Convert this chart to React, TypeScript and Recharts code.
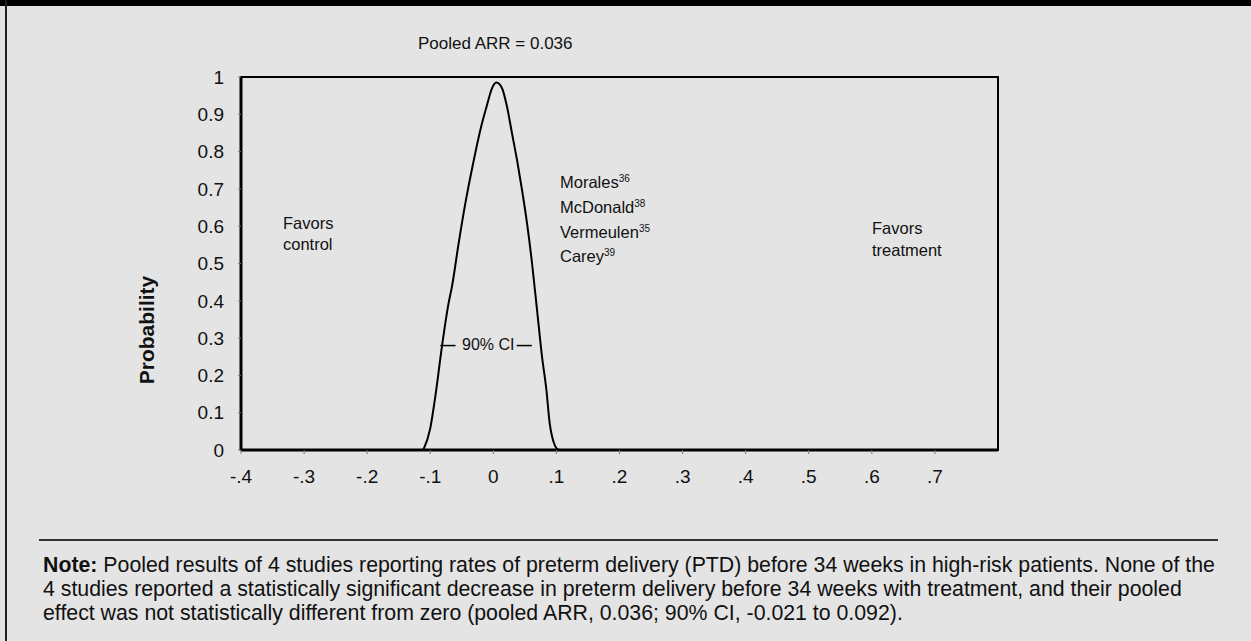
import React from "react";
import {
  LineChart,
  Line,
  XAxis,
  YAxis,
  ReferenceArea,
  ReferenceLine,
} from "recharts";

// absolute risk reduction (x) vs probability (y)
const arr = [
  -0.111, -0.1, -0.092, -0.0815, -0.071, -0.0656, -0.055, -0.0444, -0.031,
  -0.0206, -0.01, -0.002, 0.0048, 0.0138, 0.0217, 0.0296, 0.0376, 0.0455,
  0.0534, 0.0614, 0.0693, 0.0772, 0.0841, 0.0894, 0.0931, 0.0984, 0.1037,
];
const prob = [
  0, 0.058, 0.143, 0.277, 0.393, 0.438, 0.554, 0.661, 0.777, 0.858, 0.925,
  0.97, 0.985, 0.97, 0.92, 0.849, 0.777, 0.697, 0.608, 0.5, 0.375, 0.25,
  0.161, 0.071, 0.036, 0.009, 0,
];

const xTicks = [-0.4, -0.3, -0.2, -0.1, 0, 0.1, 0.2, 0.3, 0.4, 0.5, 0.6, 0.7];
const xTickLabels = ["-.4", "-.3", "-.2", "-.1", "0", ".1", ".2", ".3", ".4", ".5", ".6", ".7"];
const yTicks = [0, 0.1, 0.2, 0.3, 0.4, 0.5, 0.6, 0.7, 0.8, 0.9, 1];
const yTickLabels = ["0", "0.1", "0.2", "0.3", "0.4", "0.5", "0.6", "0.7", "0.8", "0.9", "1"];

// 90% CI marker
const ciLevel = 0.28;
const ciLeft = [-0.084, -0.06];
const ciRight = [0.037, 0.061];

const studyNames = ["Morales", "McDonald", "Vermeulen", "Carey"];
const studyRefs = ["36", "38", "35", "39"];

const noteLines = [
  "Pooled results of 4 studies reporting rates of preterm delivery (PTD) before 34 weeks in high-risk patients. None of the",
  "4 studies reported a statistically significant decrease in preterm delivery before 34 weeks with treatment, and their pooled",
  "effect was not statistically different from zero (pooled ARR, 0.036; 90% CI, -0.021 to 0.092).",
];

const data = arr.map((x, i) => ({ x, p: prob[i] }));

const INK = "#111";

function T({
  x,
  cy,
  fs,
  bold,
  children,
}: {
  x: number;
  cy: number;
  fs: number;
  bold?: boolean;
  children: React.ReactNode;
}) {
  return (
    <div
      style={{
        position: "absolute",
        left: x,
        top: cy - fs * 0.49,
        fontSize: fs,
        lineHeight: `${fs}px`,
        fontWeight: bold ? 700 : 400,
        whiteSpace: "nowrap",
        color: INK,
      }}
    >
      {children}
    </div>
  );
}

const sup = { fontSize: 10, verticalAlign: "6px", lineHeight: 0 } as const;

export default function App() {
  const H = 520;
  const YW = 80;
  const XH = 50;
  return (
    <div
      style={{
        position: "fixed",
        left: 0,
        top: 0,
        width: 1251,
        height: 641,
        background: "#e4e4e4",
        overflow: "hidden",
        fontFamily: "'Liberation Sans', Arial, sans-serif",
      }}
    >
      <div style={{ position: "absolute", left: 0, top: 0, width: 1251, height: 6, background: "#000" }} />
      <div style={{ position: "absolute", left: 5, top: 0, width: 2, height: 641, background: "#222" }} />

      <div style={{ position: "absolute", left: 0, top: 0 }}>
        <LineChart
          width={1251}
          height={H}
          data={data}
          margin={{ top: 77, right: 253, bottom: H - 450 - XH, left: 241 - YW }}
        >
          <ReferenceArea
            x1={-0.4}
            x2={0.8}
            y1={0}
            y2={1}
            fill="none"
            stroke="#000"
            strokeWidth={2}
          />
          <XAxis
            type="number"
            dataKey="x"
            domain={[-0.4, 0.8]}
            ticks={xTicks}
            tickFormatter={(_v: number, i: number) => xTickLabels[i]}
            height={XH}
            axisLine={{ stroke: "#000", strokeWidth: 3 }}
            tickLine={{ stroke: "#777" }}
            tickSize={4}
            tickMargin={16}
            tick={{ fontSize: 19, fill: INK }}
            allowDataOverflow
          />
          <YAxis
            type="number"
            domain={[0, 1]}
            ticks={yTicks}
            tickFormatter={(_v: number, i: number) => yTickLabels[i]}
            width={YW}
            axisLine={{ stroke: "#000", strokeWidth: 3 }}
            tickLine={{ stroke: "#777" }}
            tickSize={3}
            tickMargin={14}
            tick={{ fontSize: 19, fill: INK }}
            allowDataOverflow
          />
          <ReferenceLine
            segment={[
              { x: ciLeft[0], y: ciLevel },
              { x: ciLeft[1], y: ciLevel },
            ]}
            stroke="#000"
            strokeWidth={1.5}
          />
          <ReferenceLine
            segment={[
              { x: ciRight[0], y: ciLevel },
              { x: ciRight[1], y: ciLevel },
            ]}
            stroke="#000"
            strokeWidth={1.5}
          />
          <Line
            type="monotone"
            dataKey="p"
            stroke="#000"
            strokeWidth={2}
            dot={false}
            isAnimationActive={false}
          />
        </LineChart>
      </div>

      <T x={418} cy={43} fs={17}>
        Pooled ARR = 0.036
      </T>

      <div
        style={{
          position: "absolute",
          left: 147,
          top: 330,
          transform: "translate(-50%, -50%) rotate(-90deg)",
          fontSize: 21,
          fontWeight: 700,
          color: INK,
          whiteSpace: "nowrap",
        }}
      >
        Probability
      </div>

      <T x={283} cy={223} fs={16.5}>Favors</T>
      <T x={283} cy={244} fs={16.5}>control</T>
      <T x={872} cy={228} fs={16.5}>Favors</T>
      <T x={872} cy={250} fs={16.5}>treatment</T>

      {studyNames.map((n, i) => (
        <T key={n} x={560} cy={182 + i * 24.8} fs={16.5}>
          {n}
          <span style={sup}>{studyRefs[i]}</span>
        </T>
      ))}

      <T x={462} cy={345} fs={16}>90% CI</T>

      <div style={{ position: "absolute", left: 39, top: 539, width: 1179, height: 2, background: "#333" }} />

      <div
        style={{
          position: "absolute",
          left: 43,
          top: 553,
          fontSize: 21.3,
          lineHeight: "24px",
          color: INK,
          whiteSpace: "nowrap",
        }}
      >
        {noteLines.map((l, i) => (
          <div key={i}>
            {i === 0 && <b>Note: </b>}
            {l}
          </div>
        ))}
      </div>
    </div>
  );
}
